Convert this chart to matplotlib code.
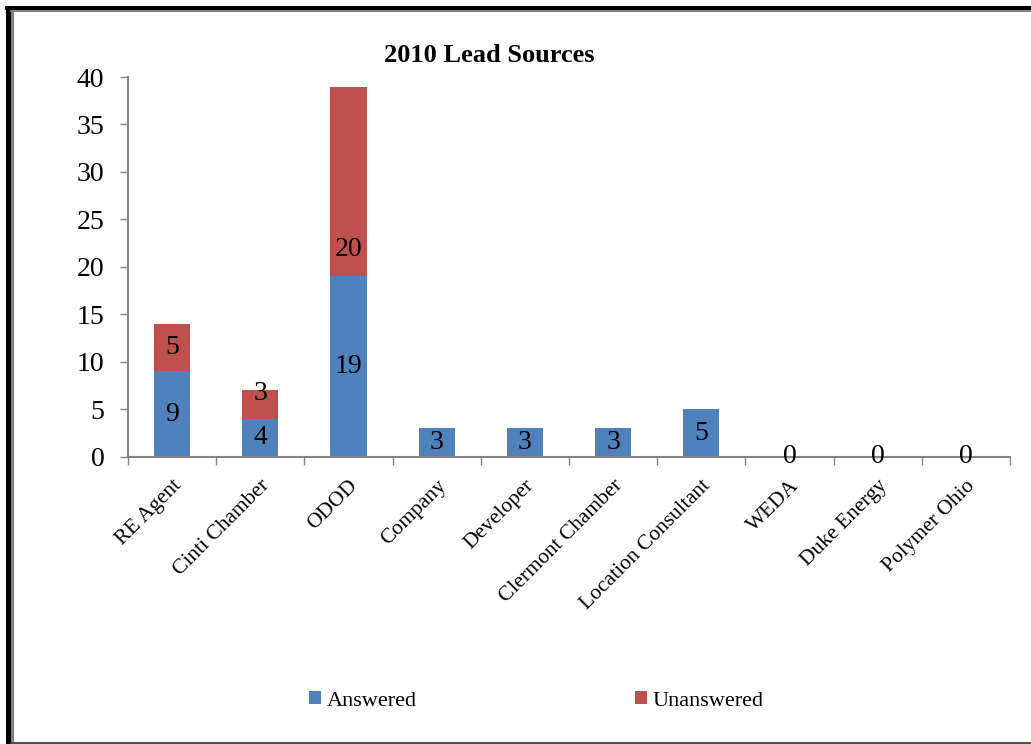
import numpy as np
import matplotlib.pyplot as plt
from matplotlib.lines import Line2D

plt.rcParams['font.family'] = ['Liberation Serif', 'DejaVu Serif']

# Datos
categories = ['RE Agent', 'Cinti Chamber', 'ODOD', 'Company', 'Developer',
              'Clermont Chamber', 'Location Consultant', 'WEDA', 'Duke Energy',
              'Polymer Ohio']
answered = [9, 4, 19, 3, 3, 3, 5, 0, 0, 0]
unanswered = [5, 3, 20, 0, 0, 0, 0, 0, 0, 0]

blue = '#4F81BD'
red = '#C0504D'
axis_gray = '#868686'

# posición de algunas etiquetas tal como aparecen en el original (no centradas)
label_shift = {1: 1.2, 2: -7.2}

fig = plt.figure(figsize=(10.31, 7.44), dpi=100)
ax = fig.add_axes([0.1241, 0.3858, 0.9796 - 0.1241, 0.8965 - 0.3858])

x = np.arange(len(categories))
w = 0.41
b1 = ax.bar(x, answered, width=w, color=blue, label='Answered')
b2 = ax.bar(x, unanswered, width=w, bottom=answered, color=red, label='Unanswered')

# Etiquetas de datos
for i in range(len(categories)):
    ax.text(x[i], answered[i] / 2, str(answered[i]), ha='center', va='center',
            fontsize=20, color='black')
    if unanswered[i] > 0:
        y = answered[i] + unanswered[i] / 2 + label_shift.get(i, 0)
        ax.text(x[i], y, str(unanswered[i]), ha='center', va='center',
                fontsize=20, color='black')

ax.set_xlim(-0.5, len(categories) - 0.5)
ax.set_ylim(0, 40)
ax.set_yticks(range(0, 41, 5))
ax.tick_params(axis='y', labelsize=20, direction='out', length=6, width=1,
               color=axis_gray, pad=11)

ax.set_xticks(x)
ax.set_xticklabels(categories, rotation=45, ha='right', rotation_mode='anchor',
                   fontsize=15.5)
ax.tick_params(axis='x', length=0, pad=14)
# marcas entre categorías
ax.set_xticks(np.arange(-0.5, len(categories)), minor=True)
ax.tick_params(axis='x', which='minor', direction='out', length=6, width=1,
               color=axis_gray)

for s in ['top', 'right']:
    ax.spines[s].set_visible(False)
for s in ['left', 'bottom']:
    ax.spines[s].set_color(axis_gray)
    ax.spines[s].set_linewidth(1.5)

fig.text(0.475, 0.926, '2010 Lead Sources', ha='center', va='center',
         fontsize=19, fontweight='bold')

fig.legend(handles=[b1, b2], loc='center', bbox_to_anchor=(0.52, 0.058), ncol=2,
           frameon=False, fontsize=16, handlelength=0.55, handleheight=0.55,
           handletextpad=0.25, columnspacing=9.8)

# Marco
fig.add_artist(Line2D([7.5 / 1031, 7.5 / 1031], [0, 1 - 6 / 744], color='black',
                      lw=3.6, transform=fig.transFigure, solid_capstyle='butt'))
fig.add_artist(Line2D([5 / 1031, 1], [1 - 8 / 744, 1 - 8 / 744], color='black',
                      lw=2.9, transform=fig.transFigure, solid_capstyle='butt'))
fig.add_artist(Line2D([11.5 / 1031, 11.5 / 1031], [2 / 744, 1 - 10 / 744], color='#808080',
                      lw=2.2, transform=fig.transFigure, solid_capstyle='butt'))
fig.add_artist(Line2D([10 / 1031, 1], [1 - 11 / 744, 1 - 11 / 744], color='#808080',
                      lw=1.5, transform=fig.transFigure, solid_capstyle='butt'))
fig.add_artist(Line2D([10 / 1031, 1], [1.5 / 744, 1.5 / 744], color='#505050',
                      lw=2.2, transform=fig.transFigure, solid_capstyle='butt'))

fig.savefig('out.png', dpi=100)
